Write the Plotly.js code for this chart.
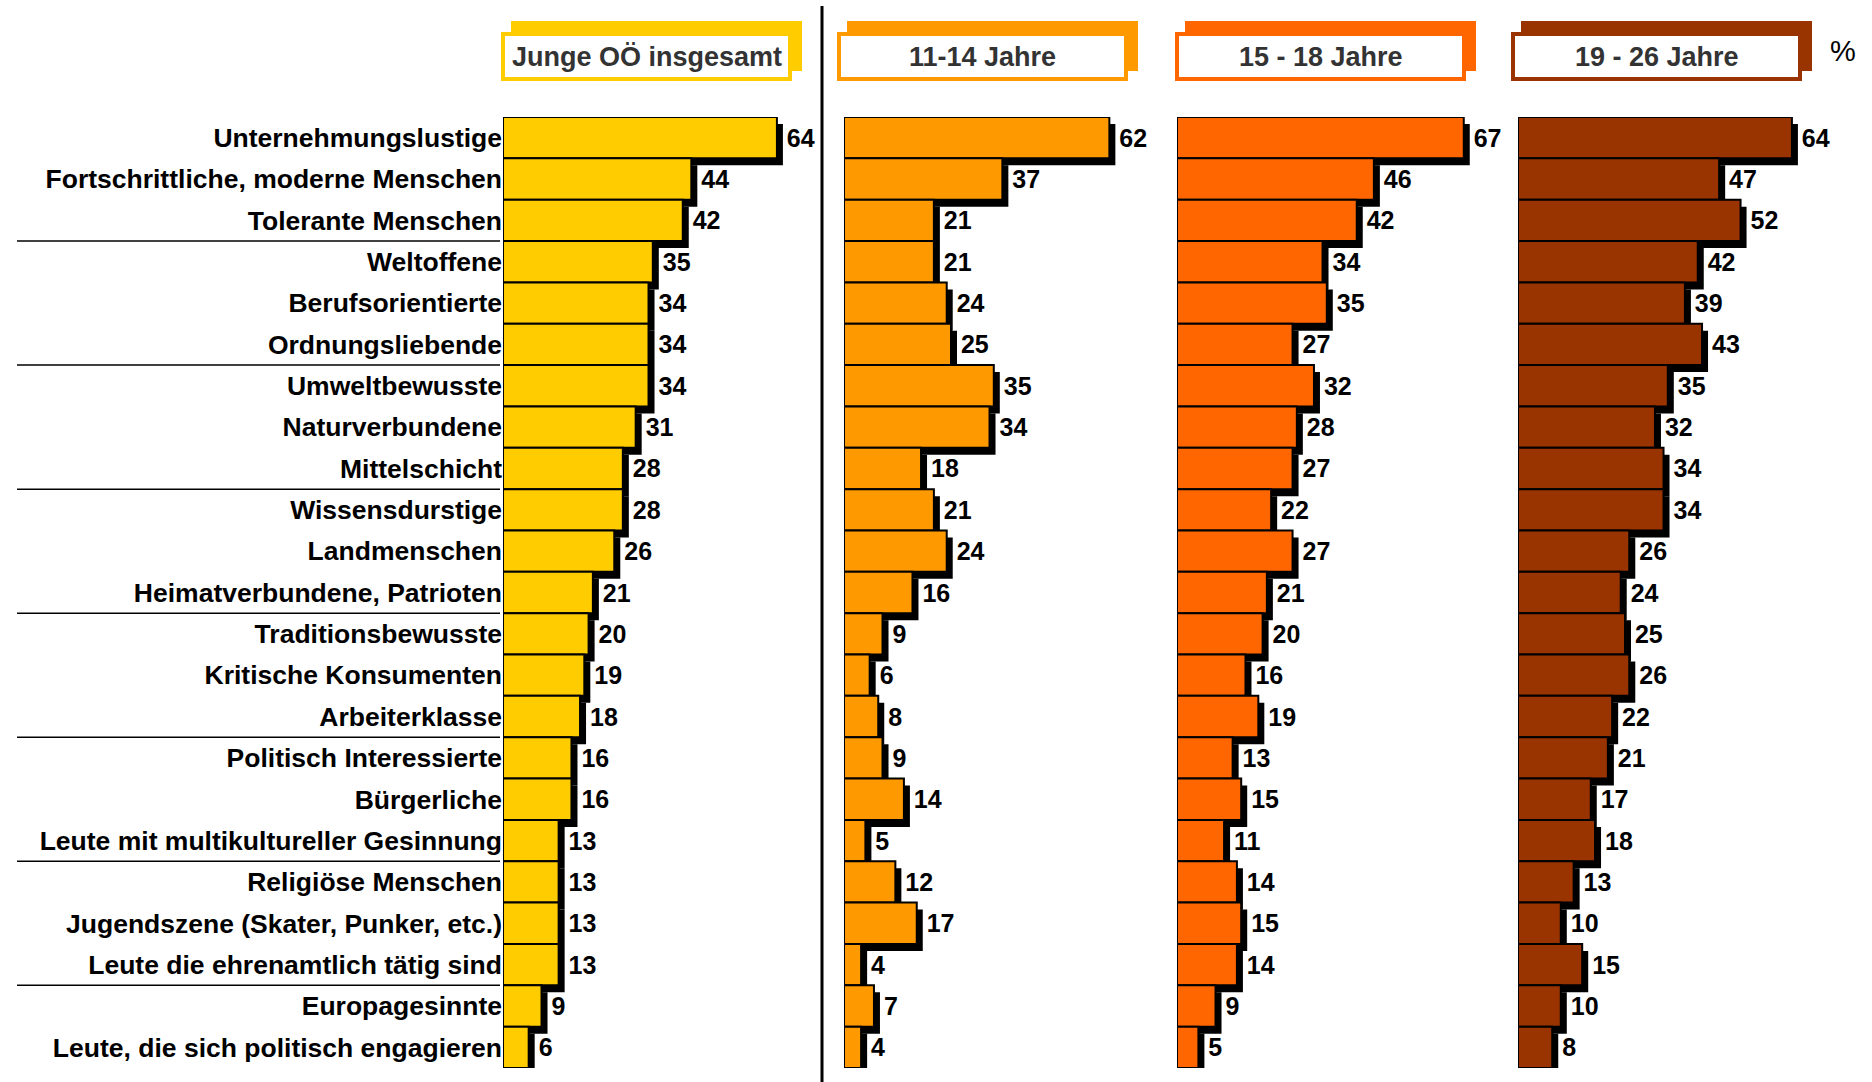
<!DOCTYPE html>
<html>
<head>
<meta charset="utf-8">
<script src="https://cdn.plot.ly/plotly-3.0.1.min.js"></script>
<style>html,body{margin:0;padding:0;background:#fff;}#chart{width:1872px;height:1082px;}</style>
</head>
<body>
<div id="chart"></div>
<script>
// ---------------- DATA ----------------
const categories = [
  "Unternehmungslustige",
  "Fortschrittliche, moderne Menschen",
  "Tolerante Menschen",
  "Weltoffene",
  "Berufsorientierte",
  "Ordnungsliebende",
  "Umweltbewusste",
  "Naturverbundene",
  "Mittelschicht",
  "Wissensdurstige",
  "Landmenschen",
  "Heimatverbundene, Patrioten",
  "Traditionsbewusste",
  "Kritische Konsumenten",
  "Arbeiterklasse",
  "Politisch Interessierte",
  "Bürgerliche",
  "Leute mit multikultureller Gesinnung",
  "Religiöse Menschen",
  "Jugendszene (Skater, Punker, etc.)",
  "Leute die ehrenamtlich tätig sind",
  "Europagesinnte",
  "Leute, die sich politisch engagieren"
];
const jungeGesamt = [64, 44, 42, 35, 34, 34, 34, 31, 28, 28, 26, 21, 20, 19, 18, 16, 16, 13, 13, 13, 13, 9, 6];
const jahre11_14  = [62, 37, 21, 21, 24, 25, 35, 34, 18, 21, 24, 16, 9, 6, 8, 9, 14, 5, 12, 17, 4, 7, 4];
const jahre15_18  = [67, 46, 42, 34, 35, 27, 32, 28, 27, 22, 27, 21, 20, 16, 19, 13, 15, 11, 14, 15, 14, 9, 5];
const jahre19_26  = [64, 47, 52, 42, 39, 43, 35, 32, 34, 34, 26, 24, 25, 26, 22, 21, 17, 18, 13, 10, 15, 10, 8];
const panelTitles = ["Junge OÖ insgesamt", "11-14 Jahre", "15 - 18 Jahre", "19 - 26 Jahre"];
const unitLabel = "%";
const groupSize = 3;

// ---------------- STYLE / LAYOUT ----------------
const W = 1872, H = 1082;
const FONT = "'Liberation Sans', Arial, sans-serif";
const colors = ["#FFCC00", "#FF9900", "#FF6600", "#993300"];
const PX_PER_UNIT = 4.28;
const XMAX = 70;
const panelStarts = [503, 844, 1177, 1518];
const headerShift = [2, 7, 2, 7];
const barTop = 117, barBottom = 1068;
const rowPx = (barBottom - barTop) / categories.length;
const shadowDx = 6 / PX_PER_UNIT;
const shadowDy = 7 / rowPx;
const series = [jungeGesamt, jahre11_14, jahre15_18, jahre19_26];

const traces = [];
const layout = {
  width: W, height: H,
  margin: {l: 0, r: 0, t: 0, b: 0},
  paper_bgcolor: "#fff", plot_bgcolor: "rgba(0,0,0,0)",
  showlegend: false,
  barmode: "overlay",
  font: {family: FONT, color: "#000"},
  shapes: [], annotations: []
};

const yDomain = [1 - barBottom / H, 1 - barTop / H];

series.forEach((vals, i) => {
  const n = i === 0 ? "" : String(i + 1);
  const xa = "x" + n, ya = "y" + n;
  // shadow
  traces.push({
    type: "bar", orientation: "h", y: categories, x: vals,
    base: shadowDx, width: 1, offset: -0.5 + shadowDy,
    marker: {color: "#000", line: {width: 0}},
    xaxis: xa, yaxis: ya, hoverinfo: "skip", cliponaxis: false
  });
  // main bars
  traces.push({
    type: "bar", orientation: "h", y: categories, x: vals,
    width: 1, offset: -0.5,
    marker: {color: colors[i], line: {color: "#000", width: 2}},
    texttemplate: "\u00A0%{x}", textposition: "outside",
    textfont: {family: FONT, size: 25, weight: "bold", color: "#000"},
    constraintext: "none", cliponaxis: false,
    xaxis: xa, yaxis: ya, hoverinfo: "x+y"
  });
  const s = panelStarts[i];
  layout["xaxis" + n] = {
    domain: [s / W, (s + XMAX * PX_PER_UNIT) / W],
    range: [0, XMAX], anchor: ya,
    showgrid: false, zeroline: false, showline: false, showticklabels: false, ticks: "",
    fixedrange: true
  };
  layout["yaxis" + n] = {
    domain: yDomain, anchor: xa,
    type: "category", categoryorder: "array", categoryarray: categories,
    range: [categories.length - 0.5, -0.5], autorange: false,
    showgrid: false, zeroline: false, showline: false,
    ticks: "", showticklabels: i === 0,
    tickfont: {family: FONT, size: 26.5, weight: "bold", color: "#000"},
    ticklabelstandoff: 0,
    automargin: false, fixedrange: true
  };

  // header box (shadow + framed front box)
  const fx0 = s - headerShift[i], fw = 291;
  layout.shapes.push({
    type: "rect", xref: "paper", yref: "paper", layer: "above",
    x0: (fx0 + 10) / W, x1: (fx0 + fw + 10) / W,
    y0: 1 - 71 / H, y1: 1 - 21 / H,
    fillcolor: colors[i], line: {width: 0}
  });
  layout.shapes.push({
    type: "rect", xref: "paper", yref: "paper", layer: "above",
    x0: (fx0 + 2) / W, x1: (fx0 + fw - 2) / W,
    y0: 1 - 79 / H, y1: 1 - 34 / H,
    fillcolor: "#fff", line: {color: colors[i], width: 4}
  });
  layout.annotations.push({
    xref: "paper", yref: "paper", x: (fx0 + fw / 2) / W, y: 1 - 56.5 / H,
    xanchor: "center", yanchor: "middle", showarrow: false,
    text: panelTitles[i],
    font: {family: FONT, size: 27, weight: "bold", color: "#333333"}
  });
});

// group separator lines under the category labels
for (let k = groupSize; k < categories.length - 1; k += groupSize) {
  layout.shapes.push({
    type: "line", xref: "paper", yref: "y",
    x0: 17 / W, x1: 500 / W, y0: k - 0.5, y1: k - 0.5,
    line: {color: "#000", width: 1.5}
  });
}

// vertical divider between total and age groups
layout.shapes.push({
  type: "line", xref: "paper", yref: "paper",
  x0: 822 / W, x1: 822 / W, y0: 0, y1: 1 - 6 / H,
  line: {color: "#000", width: 3}
});

// unit label
layout.annotations.push({
  xref: "paper", yref: "paper", x: 1843 / W, y: 1 - 51 / H,
  xanchor: "center", yanchor: "middle", showarrow: false,
  text: unitLabel, font: {family: FONT, size: 29, color: "#000"}
});

Plotly.newPlot("chart", traces, layout, {displayModeBar: false, staticPlot: true});
</script>
</body>
</html>
